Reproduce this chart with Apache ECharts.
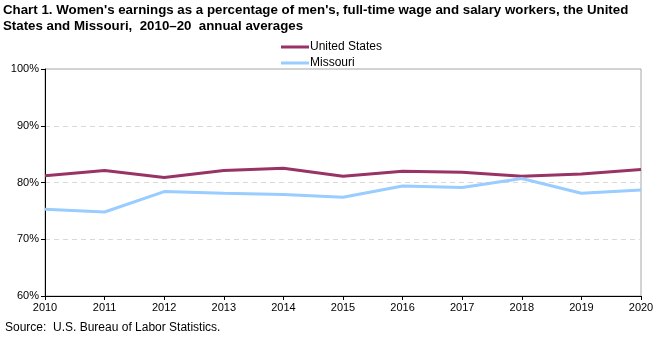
<!DOCTYPE html>
<html>
<head>
<meta charset="utf-8">
<script src="https://cdn.jsdelivr.net/npm/echarts@6/dist/echarts.min.js"></script>
<style>html,body{margin:0;padding:0;background:#fff}#c{width:664px;height:337px}</style>
</head>
<body>
<div id="c"></div>
<script>
const years = ['2010','2011','2012','2013','2014','2015','2016','2017','2018','2019','2020'];
const unitedStates = [81.2, 82.1, 80.9, 82.1, 82.5, 81.1, 82.0, 81.8, 81.1, 81.5, 82.3];
const missouri = [75.3, 74.8, 78.4, 78.1, 77.9, 77.4, 79.4, 79.1, 80.7, 78.1, 78.7];
const titleText = "Chart 1. Women's earnings as a percentage of men's, full-time wage and salary workers, the United\nStates and Missouri,  2010–20  annual averages";
const sourceText = "Source:  U.S. Bureau of Labor Statistics.";

const chart = echarts.init(document.getElementById('c'), null, {renderer: 'canvas'});
const font = 'Liberation Sans, Arial, sans-serif';
chart.setOption({
  animation: false,
  textStyle: {fontFamily: font},
  title: [{
    text: titleText,
    left: 3, top: 2, padding: 0,
    textStyle: {fontFamily: font, fontSize: 13.3, fontWeight: 'bold', color: '#000', lineHeight: 16}
  }, {
    text: sourceText,
    left: 5, top: 322, padding: 0,
    textStyle: {fontFamily: font, fontSize: 12, fontWeight: 'normal', color: '#000'}
  }],
  legend: {
    orient: 'vertical',
    left: 276, top: 36,
    itemWidth: 28, itemHeight: 3, itemGap: 4,
    icon: 'rect',
    textStyle: {fontFamily: font, fontSize: 12, color: '#000', padding: [0,0,0,-4]},
    data: ['United States', 'Missouri']
  },
  grid: {left: 45, right: 23, top: 69, bottom: 41, show: true, borderColor: '#a6a6a6', borderWidth: 1},
  xAxis: {
    type: 'category', data: years, boundaryGap: false,
    axisLine: {lineStyle: {color: '#000', width: 1}},
    axisTick: {show: true, length: 4, lineStyle: {color: '#000'}},
    axisLabel: {color: '#000', fontSize: 11, margin: 6, fontFamily: font},
    splitLine: {show: false}
  },
  yAxis: {
    type: 'value', min: 60, max: 100, interval: 10,
    axisLine: {show: true, lineStyle: {color: '#000', width: 1}},
    axisTick: {show: true, length: 4, lineStyle: {color: '#000'}},
    axisLabel: {color: '#000', fontSize: 11, margin: 6, formatter: '{value}%', fontFamily: font},
    splitLine: {show: true, showMinLine: false, showMaxLine: false, lineStyle: {color: '#d9d9d9', type: [5,4], width: 1}}
  },
  series: [{
    name: 'United States', type: 'line', data: unitedStates, symbol: 'none',
    lineStyle: {color: '#993366', width: 3}, itemStyle: {color: '#993366'}
  }, {
    name: 'Missouri', type: 'line', data: missouri, symbol: 'none',
    lineStyle: {color: '#99ccff', width: 3}, itemStyle: {color: '#99ccff'}
  }]
});
</script>
</body>
</html>
